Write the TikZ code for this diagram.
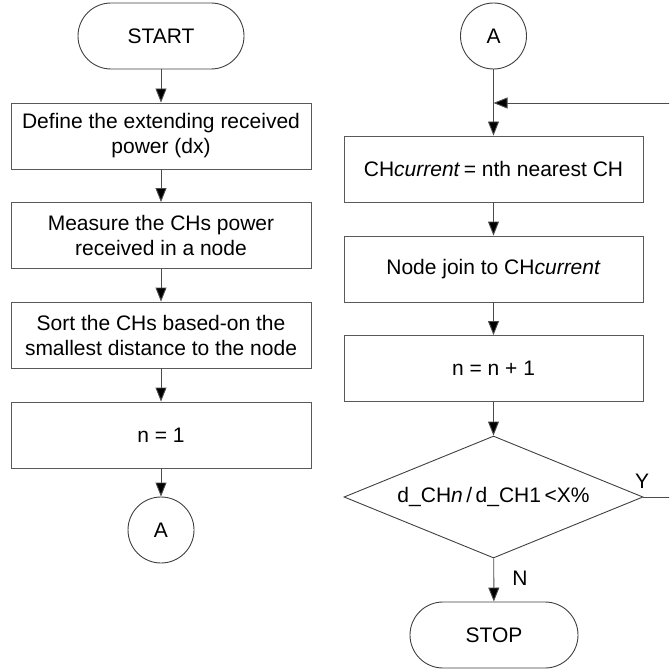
\documentclass[tikz,border=0pt]{standalone}
\usepackage{fontspec}
\setmainfont{Liberation Sans}
\usetikzlibrary{shapes.geometric,arrows.meta}
\begin{document}
\begin{tikzpicture}[x=1pt,y=-1pt,
  font=\fontsize{21}{25}\selectfont,
  line width=0.9pt,
  proc/.style={draw=black!65,rectangle,minimum width=300pt,minimum height=66pt,inner sep=0pt,align=center,text=black},
  term/.style={draw=black!75,rectangle,rounded corners=33pt,minimum width=166pt,minimum height=66pt,inner sep=0pt},
  conn/.style={draw=black!75,circle,minimum size=66pt,inner sep=0pt},
  dec/.style={draw=black!75,diamond,shape aspect=2.45,minimum width=299pt,minimum height=122pt,inner sep=0pt},
  flow/.style={draw=black!70,-{Triangle[width=11pt,length=14pt,fill=black]}},
  lbl/.style={inner sep=0pt}]
\useasboundingbox (0,0) rectangle (669,671);
\clip (0,0) rectangle (669,671);
% left column
\node[term] (start) at (161,36) {START};
\node[proc] (b1) at (161,136) {Define the extending received\\power (dx)};
\node[proc] (b2) at (161,235.5) {Measure the CHs power\\received in a node};
\node[proc] (b3) at (161,335) {Sort the CHs based-on the\\smallest distance to the node};
\node[proc] (b4) at (161,435) {n = 1};
\node[conn] (a1) at (161,530) {A};
% right column
\node[conn] (a2) at (493.5,36) {A};
\node[proc,minimum width=299pt] (b5) at (493.5,169) {CH\textit{current}\,= nth nearest CH};
\node[proc,minimum width=299pt] (b6) at (493.5,269) {Node join to CH\textit{current}};
\node[proc,minimum width=299pt] (b7) at (493.5,368.5) {n = n + 1};
\node[dec] (d) at (493.5,497) {d\_CH\textit{n}\,/\,d\_CH1\,<X\%};
\node[term,minimum width=168pt] (stop) at (494,635) {STOP};
\node[lbl] (y) at (642,481) {Y};
\node[lbl] (n) at (520,578) {N};
\coordinate (j) at (493.5,103);
\coordinate (r1) at (690,497);
\coordinate (r2) at (690,103);
% connectors
\draw[flow] (start) -- (b1);
\draw[flow] (b1) -- (b2);
\draw[flow] (b2) -- (b3);
\draw[flow] (b3) -- (b4);
\draw[flow] (b4) -- (a1);
\draw[flow] (a2) -- (b5);
\draw[flow] (b5) -- (b6);
\draw[flow] (b6) -- (b7);
\draw[flow] (b7) -- (d);
\draw[flow] (d) -- (stop);
\draw[flow] (d.east) -- (r1) -- (r2) -- (j);
\end{tikzpicture}
\end{document}
